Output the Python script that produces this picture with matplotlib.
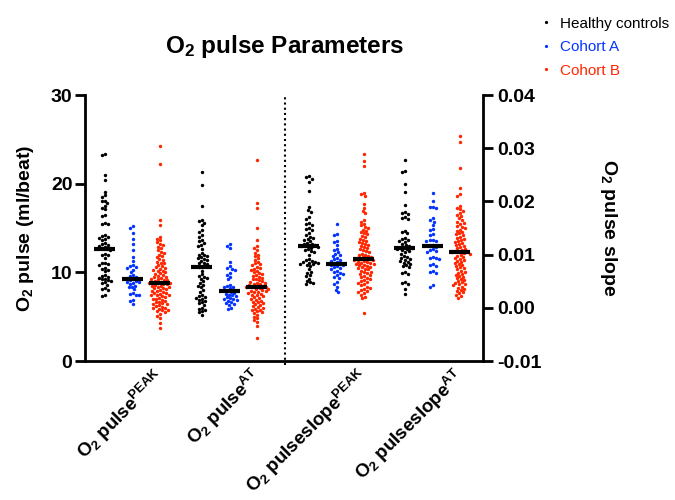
import numpy as np
import matplotlib
matplotlib.use("Agg")
import matplotlib.pyplot as plt
from matplotlib.lines import Line2D

plt.rcParams['font.family'] = ['Liberation Sans', 'DejaVu Sans']
plt.rcParams['font.weight'] = 'bold'
plt.rcParams['mathtext.fontset'] = 'custom'
plt.rcParams['mathtext.rm'] = 'Liberation Sans:bold'
plt.rcParams['mathtext.it'] = 'Liberation Sans:bold'
plt.rcParams['mathtext.bf'] = 'Liberation Sans:bold'

# ---------------- data ----------------
series = ["Healthy controls", "Cohort A", "Cohort B"]
colors = ["#000000", "#0433FF", "#FF2600"]
parameters = [r"O$_2$ pulse$^{PEAK}$", r"O$_2$ pulse$^{AT}$",
              r"O$_2$ pulseslope$^{PEAK}$", r"O$_2$ pulseslope$^{AT}$"]

pulse_peak_healthy = [23.4, 23.2, 21.0, 20.4, 19.1, 18.7, 18.5, 18.1, 18.0, 17.8, 17.5, 17.3, 17.1,
                      16.5, 16.3, 15.6, 15.5, 15.4, 14.2, 14.1, 14.0, 13.9, 13.8, 13.6, 13.3, 13.2,
                      13.1, 13.0, 12.9, 12.7, 12.6, 12.5, 12.1, 12.0, 11.9, 11.6, 11.1, 11.0, 10.9,
                      10.8, 10.5, 10.4, 10.3, 10.1, 9.7, 9.6, 9.5, 9.4, 9.3, 9.2, 9.1, 9.0, 8.9,
                      8.8, 8.6, 8.2, 8.1, 8.0, 7.5, 7.3]
pulse_peak_a = [15.2, 15.0, 14.4, 13.8, 13.2, 12.5, 11.7, 11.3, 10.8, 10.7, 10.6, 10.5, 10.3,
                10.0, 9.7, 9.6, 9.5, 9.2, 9.1, 9.0, 8.9, 8.9, 8.8, 8.7, 8.5, 8.4, 8.3, 8.1,
                7.7, 7.6, 7.5, 7.4, 6.9, 6.8, 6.4]
pulse_peak_b = [24.2, 22.2, 15.9, 15.3, 14.0, 13.8, 13.6, 13.4, 13.2, 13.1, 12.9, 12.7, 12.5,
                12.3, 12.2, 12.0, 11.8, 11.7, 11.5, 11.4, 11.2, 11.1, 11.0, 10.8, 10.7, 10.6,
                10.5, 10.4, 10.3, 10.2, 10.1, 10.0, 9.9, 9.8, 9.7, 9.6, 9.5, 9.45, 9.4, 9.3,
                9.2, 9.15, 9.1, 9.0, 8.95, 8.9, 8.85, 8.8, 8.75, 8.7, 8.65, 8.6, 8.5, 8.45, 8.4,
                8.3, 8.25, 8.2, 8.1, 8.0, 7.95, 7.9, 7.8, 7.7, 7.65, 7.6, 7.5, 7.45, 7.4, 7.3,
                7.2, 7.1, 7.0, 6.95, 6.9, 6.8, 6.7, 6.6, 6.5, 6.45, 6.4, 6.3, 6.2, 6.1, 6.0,
                5.95, 5.9, 5.8, 5.7, 5.6, 5.5, 5.3, 5.1, 4.9, 4.3, 3.7]
pulse_at_healthy = [21.3, 19.9, 17.5, 15.9, 15.8, 15.6, 15.3, 14.8, 14.6, 14.2, 14.0, 13.6, 13.5,
                    13.3, 13.1, 13.0, 12.6, 12.2, 12.0, 11.9, 11.8, 11.7, 11.6, 11.5, 11.4, 11.3,
                    11.1, 11.0, 10.9, 10.6, 10.6, 10.2, 9.8, 9.6, 9.5, 9.4, 9.3, 9.0, 8.8, 8.6,
                    8.5, 8.3, 8.0, 7.8, 7.4, 7.3, 7.2, 7.1, 7.0, 6.9, 6.8, 6.6, 6.5, 6.3, 6.0,
                    5.9, 5.8, 5.6, 5.5, 5.2]
pulse_at_a = [13.2, 13.0, 12.8, 11.2, 10.7, 10.5, 10.4, 10.3, 9.9, 9.7, 9.5, 9.2, 8.6, 8.5,
              8.4, 8.3, 8.2, 7.9, 7.8, 7.7, 7.6, 7.5, 7.4, 7.3, 7.2, 7.1, 7.0, 7.0, 6.9, 6.8,
              6.6, 6.5, 6.4, 6.3, 6.0, 5.9]
pulse_at_b = [22.7, 17.8, 17.3, 15.0, 13.6, 13.0, 12.8, 12.5, 12.2, 12.0, 11.8, 11.6, 11.4,
              11.2, 11.0, 10.9, 10.8, 10.6, 10.5, 10.4, 10.3, 10.2, 10.0, 9.9, 9.8, 9.7, 9.6,
              9.5, 9.4, 9.3, 9.2, 9.1, 9.0, 8.95, 8.85, 8.8, 8.7, 8.65, 8.6, 8.5, 8.45, 8.4,
              8.35, 8.3, 8.2, 8.15, 8.1, 8.0, 7.95, 7.9, 7.8, 7.75, 7.7, 7.6, 7.5, 7.4, 7.3,
              7.2, 7.1, 7.0, 6.9, 6.8, 6.7, 6.6, 6.5, 6.4, 6.3, 6.2, 6.1, 6.0, 5.9, 5.8, 5.7,
              5.6, 5.5, 5.4, 5.2, 5.0, 4.8, 4.6, 4.4, 4.0, 2.6]
slope_peak_healthy = [0.0247, 0.0245, 0.0243, 0.0237, 0.0220, 0.0190, 0.0184, 0.0181, 0.0170,
                      0.0166, 0.0160, 0.0158, 0.0156, 0.0150, 0.0148, 0.0146, 0.0140, 0.0136,
                      0.0134, 0.0132, 0.0130, 0.0128, 0.0125, 0.0122, 0.0120, 0.0119, 0.0118,
                      0.0117, 0.0116, 0.0115, 0.0113, 0.0110, 0.0108, 0.0106, 0.0104, 0.0100,
                      0.0092, 0.0090, 0.0088, 0.0087, 0.0086, 0.0085, 0.0084, 0.0083, 0.0082,
                      0.0080, 0.0078, 0.0072, 0.0068, 0.0066, 0.0062, 0.0060, 0.0055, 0.0050,
                      0.0048, 0.0046, 0.0044]
slope_peak_a = [0.0158, 0.0138, 0.0136, 0.0125, 0.0123, 0.0118, 0.0111, 0.0108, 0.0105, 0.0102,
                0.0100, 0.0098, 0.0094, 0.0092, 0.0090, 0.0088, 0.0086, 0.0084, 0.0082, 0.0081,
                0.0080, 0.0078, 0.0076, 0.0074, 0.0072, 0.0070, 0.0068, 0.0066, 0.0064, 0.0061,
                0.0058, 0.0056, 0.0048, 0.0045, 0.0040, 0.0034, 0.0030]
slope_peak_b = [0.0290, 0.0276, 0.0267, 0.0216, 0.0213, 0.0210, 0.0195, 0.0188, 0.0182, 0.0178,
                0.0165, 0.0162, 0.0158, 0.0155, 0.0152, 0.0150, 0.0147, 0.0145, 0.0142, 0.0140,
                0.0138, 0.0135, 0.0133, 0.0130, 0.0128, 0.0126, 0.0124, 0.0122, 0.0120, 0.0118,
                0.0116, 0.0114, 0.0112, 0.0110, 0.0108, 0.0106, 0.0104, 0.0102, 0.0100, 0.0099,
                0.0098, 0.0096, 0.0095, 0.0094, 0.0093, 0.0092, 0.0091, 0.0090, 0.0089, 0.0088,
                0.0087, 0.0086, 0.0085, 0.0084, 0.0083, 0.0082, 0.0081, 0.0080, 0.0078, 0.0077,
                0.0076, 0.0074, 0.0073, 0.0072, 0.0070, 0.0068, 0.0067, 0.0066, 0.0064, 0.0062,
                0.0060, 0.0058, 0.0056, 0.0054, 0.0052, 0.0050, 0.0048, 0.0046, 0.0044, 0.0042,
                0.0040, 0.0038, 0.0036, 0.0034, 0.0032, 0.0030, 0.0027, 0.0024, 0.0021, 0.0018,
                -0.0009]
slope_at_healthy = [0.0277, 0.0258, 0.0255, 0.0233, 0.0218, 0.0194, 0.0180, 0.0178, 0.0176,
                    0.0170, 0.0168, 0.0166, 0.0145, 0.0142, 0.0140, 0.0132, 0.0130, 0.0128,
                    0.0126, 0.0124, 0.0120, 0.0118, 0.0116, 0.0114, 0.0113, 0.0112, 0.0111,
                    0.0110, 0.0108, 0.0106, 0.0104, 0.0102, 0.0098, 0.0096, 0.0094, 0.0092,
                    0.0090, 0.0088, 0.0086, 0.0084, 0.0082, 0.0080, 0.0078, 0.0076, 0.0068,
                    0.0066, 0.0064, 0.0048, 0.0046, 0.0045, 0.0035, 0.0026]
slope_at_a = [0.0216, 0.0201, 0.0190, 0.0189, 0.0188, 0.0168, 0.0165, 0.0162, 0.0156, 0.0148,
              0.0146, 0.0138, 0.0136, 0.0128, 0.0127, 0.0126, 0.0125, 0.0118, 0.0116, 0.0114,
              0.0110, 0.0108, 0.0106, 0.0104, 0.0096, 0.0094, 0.0093, 0.0092, 0.0082, 0.0080,
              0.0078, 0.0070, 0.0068, 0.0066, 0.0042, 0.0040]
slope_at_b = [0.0322, 0.0312, 0.0263, 0.0225, 0.0214, 0.0210, 0.0192, 0.0188, 0.0185, 0.0182,
              0.0178, 0.0175, 0.0172, 0.0168, 0.0165, 0.0162, 0.0160, 0.0157, 0.0154, 0.0152,
              0.0150, 0.0147, 0.0145, 0.0142, 0.0140, 0.0138, 0.0136, 0.0134, 0.0132, 0.0130,
              0.0128, 0.0126, 0.0124, 0.0122, 0.0120, 0.0118, 0.0116, 0.0114, 0.0112, 0.0110,
              0.0108, 0.0107, 0.0106, 0.0105, 0.0104, 0.0103, 0.0102, 0.0100, 0.0098, 0.0096,
              0.0094, 0.0092, 0.0090, 0.0088, 0.0086, 0.0084, 0.0082, 0.0080, 0.0078, 0.0076,
              0.0074, 0.0072, 0.0070, 0.0068, 0.0066, 0.0064, 0.0062, 0.0060, 0.0058, 0.0056,
              0.0054, 0.0052, 0.0050, 0.0048, 0.0046, 0.0045, 0.0044, 0.0042, 0.0040, 0.0038,
              0.0036, 0.0034, 0.0032, 0.0030, 0.0028, 0.0025, 0.0022, 0.0018]

left_groups = [[pulse_peak_healthy, pulse_peak_a, pulse_peak_b],
               [pulse_at_healthy, pulse_at_a, pulse_at_b]]
right_groups = [[slope_peak_healthy, slope_peak_a, slope_peak_b],
                [slope_at_healthy, slope_at_a, slope_at_b]]

# ---------------- layout ----------------
W, H, DPI = 675, 500, 100
fig = plt.figure(figsize=(W / DPI, H / DPI), dpi=DPI)
ax = fig.add_axes([85 / W, 1 - 361 / H, 398 / W, 266 / H])
ax2 = ax.twinx()

group_pos = [0.0, 0.97, 2.04, 3.0]
cohort_off = [-0.28, 0.0, 0.27]
xlim = (-0.48, 3.5)
ax.set_xlim(*xlim)
ax2.set_xlim(*xlim)
ax.set_ylim(0, 30)
ax2.set_ylim(-0.01, 0.04)

px_per_x = 398 / (xlim[1] - xlim[0])


def swarm_offsets(vals, axis, d=3.4):
    """Beeswarm offsets (in x data units), computed in pixel space."""
    vals = np.asarray(vals, dtype=float)
    ypix = axis.transData.transform(np.column_stack([np.zeros_like(vals), vals]))[:, 1]
    order = np.argsort(-ypix)
    placed_x, placed_y = [], []
    xs = np.zeros(len(vals))
    for i in order:
        y = ypix[i]
        forb = []
        for xj, yj in zip(placed_x, placed_y):
            dy = abs(y - yj)
            if dy < d:
                w = np.sqrt(d * d - dy * dy)
                forb.append((xj - w, xj + w))
        cands = [0.0] + [a for a, b in forb] + [b for a, b in forb]
        cands.sort(key=lambda c: (abs(c), c))
        for c in cands:
            if all(not (a + 1e-9 < c < b - 1e-9) for a, b in forb):
                xs[i] = c
                break
        placed_x.append(xs[i])
        placed_y.append(y)
    return xs / px_per_x


def draw(axis, groups, gidx):
    for g, grp in enumerate(groups):
        gp = group_pos[gidx[g]]
        for c, vals in enumerate(grp):
            xc = gp + cohort_off[c]
            offs = swarm_offsets(vals, axis)
            axis.scatter(xc + offs, vals, s=6, color=colors[c], linewidths=0, zorder=3)
            med = np.median(vals)
            axis.plot([xc - 0.105, xc + 0.105], [med, med], color='black', lw=3,
                      solid_capstyle='butt', zorder=4)


fig.canvas.draw()
draw(ax, left_groups, [0, 1])
draw(ax2, right_groups, [2, 3])

# divider
ax.axvline(1.52, ymin=-0.015, ymax=1.0, color='black', ls=(0, (1, 1.5)), lw=1.5, clip_on=False)

# spines
for s in ['top', 'right']:
    ax.spines[s].set_visible(False)
for s in ['top', 'left', 'bottom']:
    ax2.spines[s].set_visible(False)
for s in ['left', 'bottom']:
    ax.spines[s].set_linewidth(2)
ax2.spines['right'].set_linewidth(2)

ax.set_yticks([0, 10, 20, 30])
ax2.set_yticks([-0.01, 0.0, 0.01, 0.02, 0.03, 0.04])
ax2.set_yticklabels(["-0.01", "0.00", "0.01", "0.02", "0.03", "0.04"])
ax.tick_params(axis='y', length=7, width=2, labelsize=14, pad=2)
ax2.tick_params(axis='y', length=7, width=2, labelsize=14, pad=3)

ax.set_xticks([p + 0.2 for p in group_pos])
ax.set_xticklabels(parameters, rotation=45, ha='right', va='top', rotation_mode='anchor',
                   fontsize=13.5)
ax.tick_params(axis='x', length=0, pad=3)

ax.set_ylabel(r"O$_2$ pulse (ml/beat)", fontsize=14, fontweight='bold', labelpad=11)
ax2.set_ylabel(r"O$_2$ pulse slope", fontsize=14, fontweight='bold', rotation=270,
               labelpad=41, va='bottom')

fig.text(285 / W, 1 - 47 / H, r"O$_2$ pulse Parameters", ha='center', va='center',
         fontsize=17.5, fontweight='bold')

handles = [Line2D([], [], marker='o', ls='none', color=col, markersize=1.3) for col in colors]
leg = fig.legend(handles, series, loc='upper left', bbox_to_anchor=(526 / W, 1.0 - 3 / H),
                 frameon=False, handlelength=0.8, handletextpad=0.5, labelspacing=0.62,
                 prop={'weight': 'normal', 'size': 11}, labelcolor='markerfacecolor')

fig.savefig("out.png", dpi=DPI)
